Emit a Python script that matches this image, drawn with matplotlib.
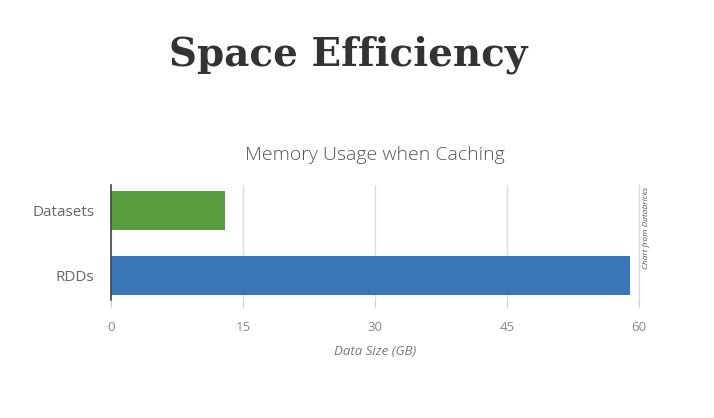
import matplotlib
matplotlib.use("Agg")
import matplotlib.pyplot as plt

categories = ["Datasets", "RDDs"]
values = [13, 59]
colors = ["#5a9d3f", "#3b76b6"]
xticks = [0, 15, 30, 45, 60]

fig = plt.figure(figsize=(7.14, 4.18), dpi=100)
fig.patch.set_facecolor("white")

ax = fig.add_axes([111/714, 1-300/418, (639-111)/714, (300-185)/418])
ypos = [0, 1]
ax.barh(ypos, values, height=0.6, color=colors, zorder=3)
ax.set_ylim(1.37, -0.4)
ax.set_xlim(0, 60)
ax.set_yticks(ypos)
ax.set_yticklabels(categories, fontsize=11, color="#666666", family="Open Sans")
ax.set_xticks(xticks)
ax.set_xticklabels([str(t) for t in xticks], fontsize=9.5, color="#888888", family="Open Sans")
ax.tick_params(axis="y", length=0, pad=12)
ax.tick_params(axis="x", length=5, color="#cccccc", pad=10)
ax.grid(axis="x", color="#dddddd", linewidth=1, zorder=0)
ax.axvline(60, color="#dddddd", linewidth=1, zorder=0, clip_on=False)
for s in ["top", "right", "bottom"]:
    ax.spines[s].set_visible(False)
ax.spines["left"].set_color("#444444")
ax.spines["left"].set_linewidth(1.2)
ax.spines["left"].set_zorder(4)
ax.set_xlabel("Data Size (GB)", fontsize=9.5, color="#777777", style="italic", family="Open Sans", labelpad=8)

fig.text(348/714, 1-55/418, "Space Efficiency", ha="center", va="center",
         fontsize=28, fontweight="bold", family="DejaVu Serif", color="#333333")
fig.text(375/714, 1-155/418, "Memory Usage when Caching", ha="center", va="center",
         fontsize=14, color="#555555", family="Open Sans", fontweight="light")
fig.text(646/714, 1-228/418, "Chart from Databricks", ha="center", va="center",
         rotation=90, fontsize=6, style="italic", color="#555555", family="Open Sans")

fig.savefig("out.png", dpi=100, facecolor="white")
